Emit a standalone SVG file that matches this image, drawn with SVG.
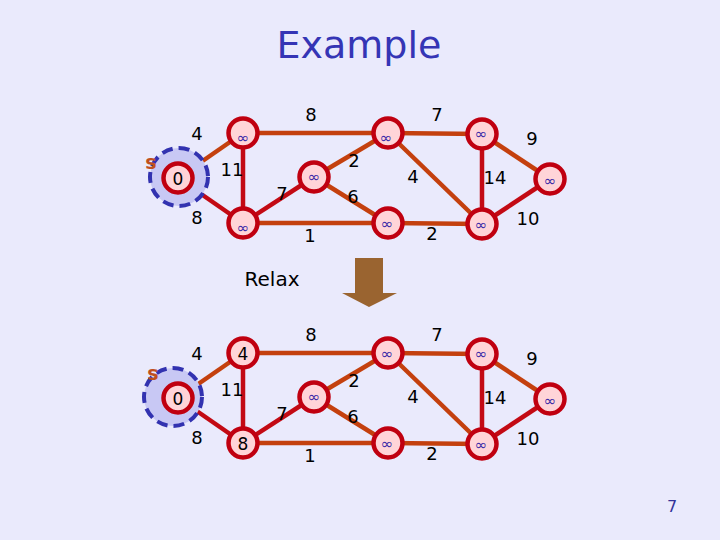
<svg xmlns="http://www.w3.org/2000/svg" width="720" height="540" viewBox="0 0 720 540">
<style>
.bg{fill:#eaeafc}
.n{fill:#ffd4d8;stroke:#c00010;stroke-width:4.5}
.er{stroke:#c30a14;stroke-width:4.5;fill:none}
.eo{stroke:#c4400e;stroke-width:4.5;fill:none}
.w{font-family:"DejaVu Sans",sans-serif;font-size:18px;fill:#000;text-anchor:middle;dominant-baseline:central}
.v{font-family:"DejaVu Sans",sans-serif;font-size:17px;fill:#000;text-anchor:middle;dominant-baseline:central}
.inf{font-family:"DejaVu Sans",sans-serif;font-size:15px;fill:#3a2aa8;text-anchor:middle;dominant-baseline:central}
.src{fill:#c8c8f4;stroke:#3232b0;stroke-width:4;stroke-dasharray:11 6}
.s{font-family:"DejaVu Sans",sans-serif;font-size:19px;font-weight:bold;fill:#c0501e;text-anchor:middle;dominant-baseline:central}
</style>
<rect class="bg" x="0" y="0" width="720" height="540"/>
<text x="359" y="58" font-family="DejaVu Sans, sans-serif" font-size="38" fill="#3535b5" text-anchor="middle">Example</text>

<!-- top graph -->
<g id="top-connectors">
<line class="eo" x1="178" y1="178" x2="243" y2="133"/>
<line class="er" x1="178" y1="178" x2="243" y2="223"/>
<line class="er" x1="243" y1="133" x2="243" y2="223"/>
<line class="er" x1="243" y1="223" x2="314" y2="177"/>
<line class="eo" x1="243" y1="133" x2="388" y2="133"/>
<line class="eo" x1="243" y1="223" x2="388" y2="223"/>
<line class="eo" x1="314" y1="177" x2="388" y2="133"/>
<line class="eo" x1="314" y1="177" x2="388" y2="223"/>
<line class="eo" x1="388" y1="133" x2="482" y2="134"/>
<line class="eo" x1="388" y1="133" x2="482" y2="224"/>
<line class="eo" x1="388" y1="223" x2="482" y2="224"/>
<line class="er" x1="482" y1="134" x2="482" y2="224"/>
<line class="eo" x1="482" y1="134" x2="550" y2="179"/>
<line class="er" x1="482" y1="224" x2="550" y2="179"/>
</g>
<g id="top-weights">
<text class="w" x="197" y="133">4</text>
<text class="w" x="232" y="169">11</text>
<text class="w" x="197" y="217">8</text>
<text class="w" x="282" y="193">7</text>
<text class="w" x="311" y="114">8</text>
<text class="w" x="310" y="235">1</text>
<text class="w" x="354" y="160">2</text>
<text class="w" x="353" y="196">6</text>
<text class="w" x="437" y="114">7</text>
<text class="w" x="413" y="176">4</text>
<text class="w" x="532" y="138">9</text>
<text class="w" x="495" y="177">14</text>
<text class="w" x="432" y="233">2</text>
<text class="w" x="528" y="218">10</text>
</g>
<g id="top-s">
<circle class="src" cx="179" cy="177" r="29"/>
<circle class="n" cx="178" cy="178" r="14.5"/>
<text class="v" x="178" y="179">0</text>
<text class="s" x="151" y="162">s</text>
</g>
<g id="top-A"><circle class="n" cx="243" cy="133" r="14.5"/><text class="inf" x="243" y="138">∞</text></g>
<g id="top-B"><circle class="n" cx="243" cy="223" r="14.5"/><text class="inf" x="243" y="228">∞</text></g>
<g id="top-C"><circle class="n" cx="314" cy="177" r="14.5"/><text class="inf" x="314" y="177">∞</text></g>
<g id="top-D"><circle class="n" cx="388" cy="133" r="14.5"/><text class="inf" x="386" y="138">∞</text></g>
<g id="top-E"><circle class="n" cx="482" cy="134" r="14.5"/><text class="inf" x="481" y="134">∞</text></g>
<g id="top-F"><circle class="n" cx="550" cy="179" r="14.5"/><text class="inf" x="550" y="181">∞</text></g>
<g id="top-G"><circle class="n" cx="388" cy="223" r="14.5"/><text class="inf" x="387" y="224">∞</text></g>
<g id="top-H"><circle class="n" cx="482" cy="224" r="14.5"/><text class="inf" x="481" y="225">∞</text></g>

<!-- relax -->
<text x="272" y="279" font-family="DejaVu Sans, sans-serif" font-size="20" fill="#000" text-anchor="middle" dominant-baseline="central">Relax</text>
<g id="arrow">
<polygon points="355,258 383,258 383,293 397,293 369,307 342,293 355,293" fill="#9a6430"/>
</g>

<!-- bottom graph -->
<g id="bottom-connectors">
<line class="eo" x1="178" y1="398" x2="243" y2="353"/>
<line class="er" x1="178" y1="398" x2="243" y2="443"/>
<line class="er" x1="243" y1="353" x2="243" y2="443"/>
<line class="er" x1="243" y1="443" x2="314" y2="397"/>
<line class="eo" x1="243" y1="353" x2="388" y2="353"/>
<line class="eo" x1="243" y1="443" x2="388" y2="443"/>
<line class="eo" x1="314" y1="397" x2="388" y2="353"/>
<line class="eo" x1="314" y1="397" x2="388" y2="443"/>
<line class="eo" x1="388" y1="353" x2="482" y2="354"/>
<line class="eo" x1="388" y1="353" x2="482" y2="444"/>
<line class="eo" x1="388" y1="443" x2="482" y2="444"/>
<line class="er" x1="482" y1="354" x2="482" y2="444"/>
<line class="eo" x1="482" y1="354" x2="550" y2="399"/>
<line class="er" x1="482" y1="444" x2="550" y2="399"/>
</g>
<g id="bottom-weights">
<text class="w" x="197" y="353">4</text>
<text class="w" x="232" y="389">11</text>
<text class="w" x="197" y="437">8</text>
<text class="w" x="282" y="413">7</text>
<text class="w" x="311" y="334">8</text>
<text class="w" x="310" y="455">1</text>
<text class="w" x="354" y="380">2</text>
<text class="w" x="353" y="416">6</text>
<text class="w" x="437" y="334">7</text>
<text class="w" x="413" y="396">4</text>
<text class="w" x="532" y="358">9</text>
<text class="w" x="495" y="397">14</text>
<text class="w" x="432" y="453">2</text>
<text class="w" x="528" y="438">10</text>
</g>
<g id="bottom-s">
<circle class="src" cx="173" cy="397" r="29"/>
<circle class="n" cx="178" cy="398" r="14.5"/>
<text class="v" x="178" y="399">0</text>
<text class="s" x="153" y="373">s</text>
</g>
<g id="bottom-A"><circle class="n" cx="243" cy="353" r="14.5"/><text class="v" x="243" y="354">4</text></g>
<g id="bottom-B"><circle class="n" cx="243" cy="443" r="14.5"/><text class="v" x="243" y="444">8</text></g>
<g id="bottom-C"><circle class="n" cx="314" cy="397" r="14.5"/><text class="inf" x="314" y="397">∞</text></g>
<g id="bottom-D"><circle class="n" cx="388" cy="353" r="14.5"/><text class="inf" x="387" y="354">∞</text></g>
<g id="bottom-E"><circle class="n" cx="482" cy="354" r="14.5"/><text class="inf" x="481" y="354">∞</text></g>
<g id="bottom-F"><circle class="n" cx="550" cy="399" r="14.5"/><text class="inf" x="550" y="401">∞</text></g>
<g id="bottom-G"><circle class="n" cx="388" cy="443" r="14.5"/><text class="inf" x="387" y="444">∞</text></g>
<g id="bottom-H"><circle class="n" cx="482" cy="444" r="14.5"/><text class="inf" x="481" y="445">∞</text></g>

<text x="672" y="506" font-family="DejaVu Sans, sans-serif" font-size="16" fill="#333399" text-anchor="middle" dominant-baseline="central">7</text>
</svg>
